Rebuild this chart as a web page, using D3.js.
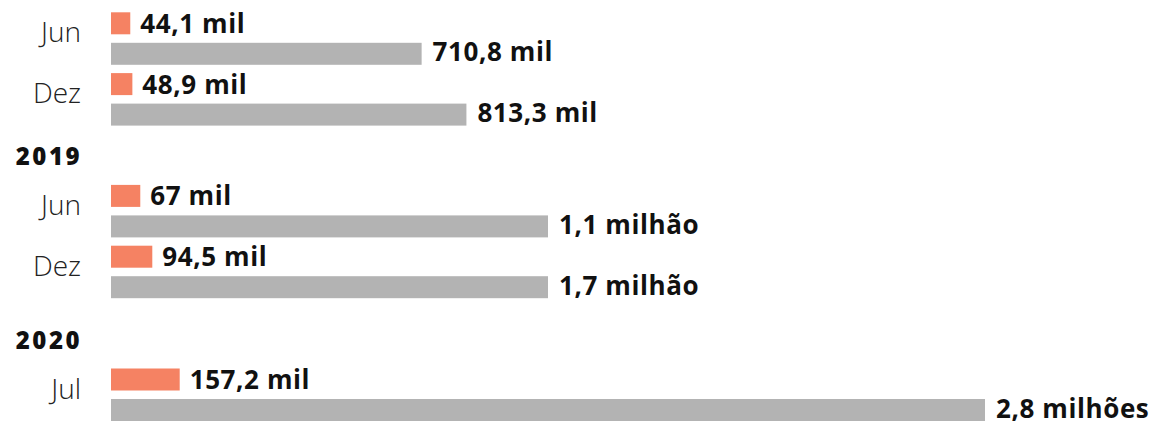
<!DOCTYPE html>
<html>
<head>
<meta charset="utf-8">
<script src="https://cdn.jsdelivr.net/npm/d3@7"></script>
<style>
  body { margin: 0; background: #fff; }
  svg { display: block; }
</style>
</head>
<body>
<svg id="chart"></svg>
<script>
// rows of the chart
const months = ['Jun', 'Dez', 'Jun', 'Dez', 'Jul'];
const years = ['2018', '2018', '2019', '2019', '2020'];
// bar lengths, in thousands
const orangeValues = [44.1, 48.9, 67, 94.5, 157.2];
const grayValues = [710.8, 813.3, 1000, 1000, 2000];
const orangeLabels = ['44,1 mil', '48,9 mil', '67 mil', '94,5 mil', '157,2 mil'];
const grayLabels = ['710,8 mil', '813,3 mil', '1,1 milhão', '1,7 milhão', '2,8 milhões'];

const width = 1156;
const height = 425;
const barH = 22;
const pairGap = 30.5;
const rowStep = 60.8;
const yearGap = { 2019: 51, 2020: 62 };
const font = '"Open Sans", "Noto Sans", sans-serif';

// top of each row (orange bar), with extra room where a new year starts
const rowTop = [];
let cur = 12.3;
years.forEach((yr, i) => {
    if (i > 0) cur += rowStep + (yr !== years[i - 1] ? yearGap[yr] : 0);
    rowTop.push(cur);
});

const rows = months.map((m, i) => ({
    i, month: m, year: years[i],
    orange: orangeValues[i], gray: grayValues[i],
    orangeLabel: orangeLabels[i], grayLabel: grayLabels[i],
    // the first year's heading sits above the visible area
    newYear: i > 0 && years[i] !== years[i - 1]
}));

const x = d3.scaleLinear()
    .domain([0, 2000])
    .range([111, 985]);

const y = d3.scaleOrdinal()
    .domain(d3.range(rows.length))
    .range(rowTop);

const svg = d3.select('#chart')
    .attr('width', width)
    .attr('height', height);

const row = svg.selectAll('g.row')
    .data(rows)
    .join('g')
        .attr('class', 'row');

row.append('rect')
    .attr('x', x(0))
    .attr('y', d => y(d.i))
    .attr('width', d => x(d.orange) - x(0))
    .attr('height', barH)
    .attr('fill', '#f58263');

row.append('rect')
    .attr('x', x(0))
    .attr('y', d => y(d.i) + pairGap)
    .attr('width', d => x(d.gray) - x(0))
    .attr('height', barH)
    .attr('fill', '#b3b3b3');

row.append('text')
    .attr('x', d => x(d.orange) + 10)
    .attr('y', d => y(d.i) + barH - 1.5)
    .style('font', `700 26px ${font}`)
    .style('letter-spacing', '0.6px')
    .attr('fill', '#111')
    .text(d => d.orangeLabel);

row.append('text')
    .attr('x', d => x(d.gray) + 11)
    .attr('y', d => y(d.i) + pairGap + barH - 3.5)
    .style('font', `700 26px ${font}`)
    .style('letter-spacing', '0.6px')
    .attr('fill', '#111')
    .text(d => d.grayLabel);

row.append('text')
    .attr('x', 81)
    .attr('y', d => y(d.i) + 30)
    .attr('text-anchor', 'end')
    .style('font', `300 28px ${font}`)
    .attr('fill', '#222')
    .text(d => d.month);

row.filter(d => d.newYear)
    .append('text')
    .attr('x', 82)
    .attr('y', d => y(d.i) - 19.5)
    .attr('text-anchor', 'end')
    .style('font', `800 24px ${font}`)
    .style('letter-spacing', '2.5px')
    .attr('fill', '#111')
    .text(d => d.year);
</script>
</body>
</html>
